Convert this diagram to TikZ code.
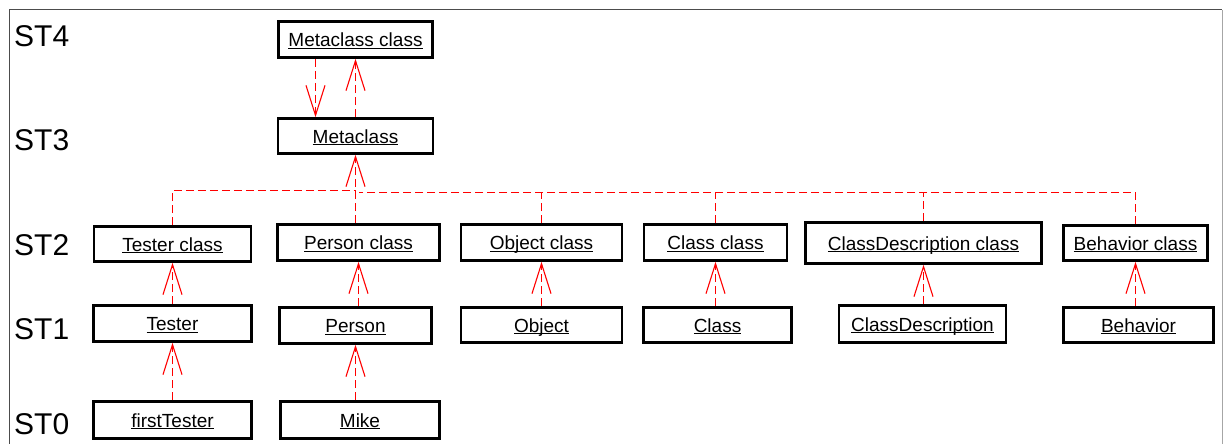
\documentclass[tikz,border=0pt]{standalone}
\usepackage{fontspec}
\setmainfont{Liberation Sans}
\usetikzlibrary{arrows.meta}
\definecolor{linkred}{RGB}{255,0,0}
\newcommand\ulbl[1]{\underline{\smash{#1}}}
\begin{document}
\begin{tikzpicture}[x=1pt,y=-1pt,
  box/.style={draw=black, line width=2.6pt, fill=white, inner sep=0pt,
    font=\fontsize{19}{22}\selectfont, text height=14pt, text depth=0pt},
  dsh/.style={color=linkred, line width=1.1pt, dash pattern=on 8pt off 4pt},
  arr/.style={dsh, -{Straight Barb[length=30pt,width=19pt]}},
  lvl/.style={anchor=base west, inner sep=0pt, font=\fontsize{30}{34}\selectfont}]
\useasboundingbox (0,0) rectangle (1223,444);
\draw[line width=1pt, black!70] (9.5,444) -- (9.5,10) -- (1222,10);
\draw[line width=1pt, black!35] (1222,10) -- (1222,444);

\node[lvl] (st4) at (14,47) {ST4};
\node[lvl] (st3) at (14,150.7) {ST3};
\node[lvl] (st2) at (14,255.7) {ST2};
\node[lvl] (st1) at (14,339) {ST1};
\node[lvl] (st0) at (14,434) {ST0};

\node[box, minimum width=154pt, minimum height=36pt] (mcc) at (355.5,39.5) {\ulbl{Metaclass class}};
\node[box, minimum width=155pt, minimum height=35pt] (mc) at (355.5,136) {\ulbl{Metaclass}};

\node[box, minimum width=157pt, minimum height=35pt] (tc) at (172.5,244) {\ulbl{Tester class}};
\node[box, minimum width=162pt, minimum height=36pt] (pc) at (358.5,242.5) {\ulbl{Person class}};
\node[box, minimum width=161pt, minimum height=36pt] (oc) at (541.5,242.5) {\ulbl{Object class}};
\node[box, minimum width=143pt, minimum height=36pt] (cc) at (715.5,242.5) {\ulbl{Class class}};
\node[box, minimum width=236pt, minimum height=41pt] (cdc) at (923.5,243) {\ulbl{ClassDescription class}};
\node[box, minimum width=144pt, minimum height=35pt] (bc) at (1135.5,243) {\ulbl{Behavior class}};

\node[box, minimum width=158pt, minimum height=36pt] (t) at (172.5,323.5) {\ulbl{Tester}};
\node[box, minimum width=152pt, minimum height=36pt] (p) at (355.5,325.5) {\ulbl{Person}};
\node[box, minimum width=161pt, minimum height=35pt] (o) at (541.5,325) {\ulbl{Object}};
\node[box, minimum width=148pt, minimum height=35pt] (c) at (717.5,325) {\ulbl{Class}};
\node[box, minimum width=167pt, minimum height=37pt] (cd) at (922.5,324) {\ulbl{ClassDescription}};
\node[box, minimum width=150pt, minimum height=35pt] (b) at (1138.5,325) {\ulbl{Behavior}};

\node[box, minimum width=158pt, minimum height=37pt] (ft) at (172.5,420) {\ulbl{firstTester}};
\node[box, minimum width=159pt, minimum height=37pt] (m) at (360,420) {\ulbl{Mike}};

% ST4 <-> ST3
\coordinate (a1) at ([xshift=-40pt]mcc.south);
\coordinate (a2) at (a1 |- mc.north);
\draw[arr] (a1) -- (a2);
\draw[arr] (mc.north) -- (mc.north |- mcc.south);

% ST2 -> ST3
\coordinate (hl) at (355.5,190.5);
\coordinate (hr) at (358.5,192.5);
\draw[dsh] (tc.north) |- (hl);
\draw[dsh] (bc.north) |- (hr);
\draw[dsh] (oc.north) -- (oc.north |- hr);
\draw[dsh] (cc.north) -- (cc.north |- hr);
\draw[dsh] (cdc.north) -- (cdc.north |- hr);
\draw[arr] (pc.north -| mc.south) -- (mc.south);

% ST1 -> ST2
\draw[arr] (t.north -| tc.south) -- (tc.south);
\draw[arr] (p.north -| pc.south) -- (pc.south);
\draw[arr] (o.north -| oc.south) -- (oc.south);
\draw[arr] (c.north -| cc.south) -- (cc.south);
\draw[arr] (cd.north -| cdc.south) -- (cdc.south);
\draw[arr] (b.north -| bc.south) -- (bc.south);

% ST0 -> ST1
\draw[arr] (ft.north -| t.south) -- (t.south);
\draw[arr] (m.north -| p.south) -- (p.south);
\end{tikzpicture}
\end{document}
